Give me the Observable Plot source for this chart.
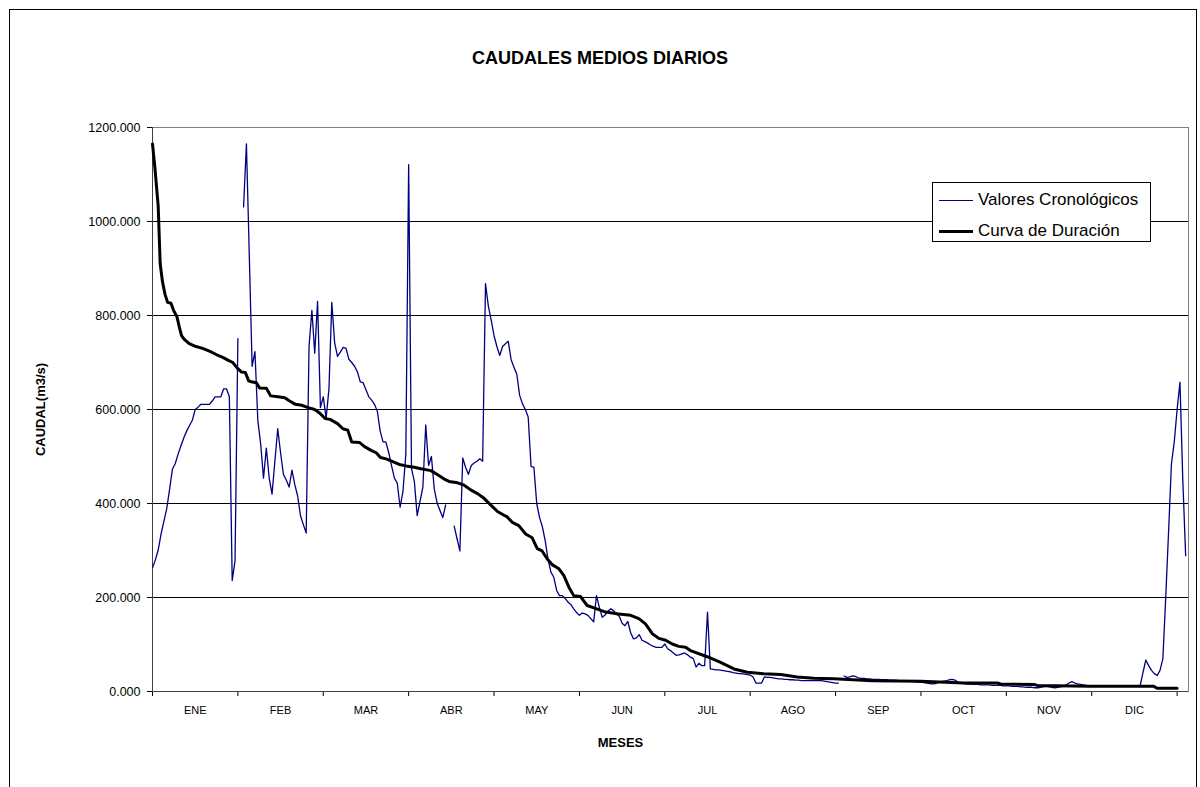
<!DOCTYPE html>
<html><head><meta charset="utf-8">
<script src="https://cdn.jsdelivr.net/npm/d3@7"></script>
<script src="https://cdn.jsdelivr.net/npm/@observablehq/plot@0.6"></script>
<style>
body{margin:0;background:#fff;font-family:"Liberation Sans",Arial,sans-serif;}
#wrap{position:relative;width:1200px;height:787px;overflow:hidden;background:#fff;}
#chart{position:absolute;left:0;top:0;}
#border{position:absolute;left:9px;top:9px;width:1188px;height:820px;border:1px solid #000;box-sizing:border-box;pointer-events:none;}
#title{position:absolute;left:0;width:1200px;top:48px;text-align:center;font-weight:bold;font-size:18px;color:#000;}
#legend{position:absolute;left:932px;top:182px;width:219px;height:60px;border:1px solid #000;background:#fff;box-sizing:border-box;font-size:17px;color:#000;}
.row{position:absolute;left:0;height:20px;display:flex;align-items:center;}
.sw{width:34px;margin-left:6px;margin-right:5px;}
</style>
</head><body>
<div id="wrap">
  <div id="chart"></div>
  <div id="title">CAUDALES MEDIOS DIARIOS</div>
  <div id="legend">
    <div class="row" style="top:7px"><div class="sw" style="border-top:1px solid #000080"></div><span>Valores Cronológicos</span></div>
    <div class="row" style="top:38px"><div class="sw" style="border-top:3px solid #000"></div><span>Curva de Duración</span></div>
  </div>
  <div id="border"></div>
</div>
<script>
// Meses (etiquetas del eje X, una cada 30 días)
const meses = ["ENE","FEB","MAR","ABR","MAY","JUN","JUL","AGO","SEP","OCT","NOV","DIC"];
// Ticks
const ticksY = [0, 200, 400, 600, 800, 1000, 1200];
const gridY = [200, 400, 600, 800, 1000];
const ticksDias = [0, 30, 60, 90, 120, 150, 180, 210, 240, 270, 300, 330, 360];
const centrosMes = [15, 45, 75, 105, 135, 165, 195, 225, 255, 285, 315, 345];

// Valores cronológicos (caudal medio diario, m3/s), día 0..363; null = sin dato
const valoresCronologicos = [
  263, 280, 301, 335, 362, 389, 430, 473, 485, 505,
  523, 540, 554, 566, 577, 600, 605, 611, 611, 611,
  611, 618, 627, 627, 627, 644, 644, 627, 236, 278,
  751, null, 1031, 1165, 930, 692, 723, 577, 527, 454,
  518, 454, 420, 490, 559, 508, 462, 450, 435, 471,
  440, 416, 374, 355, 337, 734, 811, 720, 830, 604,
  627, 581, 644, 828, 742, 713, 722, 732, 730, 707,
  700, 692, 680, 659, 657, 642, 627, 620, 611, 596,
  554, 531, 531, 508, 480, 454, 443, 392, 426, 504,
  1121, 474, 447, 374, 405, 435, 567, 481, 500, 431,
  401, 385, 370, 397, null, null, 352, 325, 299, 497,
  477, 462, 481, 486, 490, 495, 490, 868, 820, 790,
  757, 734, 715, 734, 740, 745, 706, 690, 675, 630,
  612, 600, 584, 479, 477, 400, 370, 350, 320, 280,
  254, 243, 215, 204, 204, 198, 190, 185, 176, 168,
  162, 167, 165, 162, 155, 148, 204, 179, 158, 163,
  171, 176, 172, 165, 160, 145, 140, 149, 125, 112,
  114, 121, 109, 106, 103, 99, 96, 94, 94, 94,
  101, 91, 87, 82, 77, 78, 80, 82, 78, 73,
  70, 52, 60, 55, 55, 169, 48, 47, 46, 46,
  45, 44, 43, 42, 40, 39, 38, 38, 37, 36,
  35, 31, 18, 18, 18, 31, 30, 30, 29, 28,
  27, 27, 26, 26, 25, 25, 24, 24, 23, 23,
  23, 23, 23, 23, 23, 23, 22, 21, 20, 19,
  18, 18, null, 33, 30, 31, 33, 32, 29, 28,
  28, 27, 27, 26, 26, 26, 25, 25, 25, 24,
  24, 24, 23, 23, 22, 22, 22, 21, 21, 20,
  20, 19, 18, 17, 16, 17, 19, 21, 22, 23,
  25, 26, 24, 20, 18, 17, 16, 16, 15, 15,
  15, 14, 14, 14, 14, 13, 13, 13, 13, 12,
  12, 12, 11, 11, 11, 10, 10, 9, 9, 9,
  8, 8, 9, 10, 11, 10, 9, 8, 9, 10,
  11, 14, 18, 21, 18, 16, 15, 14, 13, 12,
  12, 12, 12, 11, 11, 11, 11, 11, 11, 11,
  11, 11, 11, 11, 11, 11, 11, 12, 40, 67,
  55, 45, 38, 34, 45, 70, 200, 340, 484, 531,
  600, 658, 449, 289
];

// Curva de duración (vértices leídos: día, caudal)
const duracionDia = [0, 0.8, 2, 2.7, 3.5, 4.4, 5.3, 6.5, 7.4, 8.6, 9.4, 10.2, 11.2, 12.9, 15.3, 17.6, 20, 22.4, 24.7, 26.5,
  28.2, 29.8, 31.2, 32.6, 33.8, 34.7, 36.5, 37.6, 40, 41.5, 44.1, 46.5, 47.9, 50.2, 52.4, 54.7, 57, 58.8, 60.6, 62.4,
  65, 66.9, 68.6, 70, 72.7, 74.5, 76.8, 78.6, 80.1, 82.1, 84.4, 86.7, 89.1, 92, 94.3, 97.8, 100.2, 102.5, 104.2, 107.2,
  109.5, 111.8, 114.2, 116.5, 118.8, 121.2, 123.5, 124.5, 126.4, 128.7, 131.1, 133.4, 135.2, 136.9, 138.7, 140.4, 142.8, 144.5, 146.3, 148,
  150.4, 152.7, 155.1, 159.2, 163.8, 168, 170.9, 173.2, 175.6, 177.9, 180.3, 182.6, 184.9, 187.3, 189, 194.9, 199.6, 204.3, 209, 214.8,
  220.7, 226.5, 232.4, 239.4, 252.9, 269.9, 285.1, 296.8, 298, 309.7, 310.9, 329.6, 351.8, 353, 360];
const duracionCaudal = [1165, 1117, 1033, 910, 872, 845, 828, 826, 811, 797, 776, 757, 749, 740, 734, 730, 724, 717, 711, 705,
  700, 688, 680, 679, 661, 659, 657, 646, 645, 629, 627, 625, 619, 611, 609, 604, 600, 592, 581, 579,
  570, 559, 556, 531, 530, 521, 513, 508, 498, 495, 489, 483, 480, 477, 474, 470, 461, 452, 447, 444,
  439, 429, 421, 411, 397, 383, 375, 372, 360, 353, 335, 327, 304, 299, 282, 270, 261, 247, 222, 204,
  202, 183, 178, 169, 165, 162, 155, 144, 123, 113, 109, 101, 96, 94, 87, 74, 62, 48, 41, 38,
  36, 31, 28, 27, 23, 22, 18, 18, 16, 15, 13, 11, 11, 7, 7];

const crono = valoresCronologicos.map((v, i) => ({dia: i, caudal: v}));
const duracion = duracionDia.map((d, i) => ({dia: d, caudal: duracionCaudal[i]}));

const chart = Plot.plot({
  width: 1200, height: 787,
  marginLeft: 152, marginRight: 12, marginTop: 127, marginBottom: 96,
  style: {fontFamily: "'Liberation Sans', Arial, sans-serif", fontSize: "12px", background: "transparent", color: "#000"},
  x: {domain: [0, 364]},
  y: {domain: [0, 1200]},
  marks: [
    Plot.ruleY(gridY, {stroke: "#000", strokeWidth: 1}),
    Plot.frame({stroke: "#808080"}),
    Plot.axisY(ticksY, {tickSize: 5, tickPadding: 7, tickFormat: d => d.toFixed(3), label: null, fontSize: 12.5}),
    Plot.axisX(ticksDias, {tickSize: 5, tickFormat: () => "", label: null}),
    Plot.axisX(centrosMes, {tickSize: 0, tickPadding: 15, tickFormat: d => meses[Math.round((d - 15) / 30)], label: null, fontSize: 11}),
    Plot.ruleX([0], {stroke: "#404040"}),
    Plot.ruleY([0], {stroke: "#404040"}),
    Plot.line(crono, {x: "dia", y: "caudal", stroke: "#000080", strokeWidth: 1.3}),
    Plot.line(duracion, {x: "dia", y: "caudal", stroke: "#000", strokeWidth: 3}),
    Plot.text(["CAUDAL(m3/s)"], {frameAnchor: "left", textAnchor: "middle", dx: -112, rotate: -90, fontWeight: "bold", fontSize: 13}),
    Plot.text(["MESES"], {frameAnchor: "bottom", dx: -50, dy: 55, fontWeight: "bold", fontSize: 13})
  ]
});
document.getElementById("chart").appendChild(chart);
</script>
</body></html>
